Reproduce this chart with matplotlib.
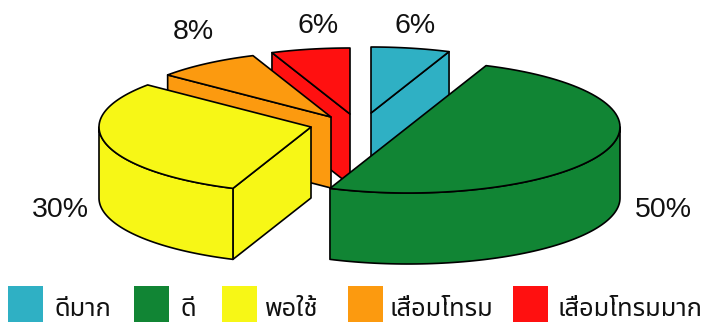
import numpy as np
import matplotlib
matplotlib.use('Agg')
import matplotlib.pyplot as plt
from matplotlib.patches import Polygon, Rectangle

# datos
categories = ['ดีมาก', 'ดี', 'พอใช้', 'เสื่อมโทรม', 'เสื่อมโทรมมาก']
values = [6, 50, 30, 8, 6]
colors = ['#2FB0C4', '#118534', '#F7F716', '#FC9A0F', '#FF1010']

# layout in pixels
apex_x = [371, 408, 311, 331, 350]
apex_y = [113, 127, 127, 117, 114]
label_xy = [(415, 26), (318, 26), (193, 32), (60, 210), (663, 210)]
label_order = [0, 4, 3, 2, 1]
legend_box_x = [8, 134, 222, 348, 513]
legend_text_x = [55, 180, 265, 389, 558]

rx, ry = 212, 66
depth = 71
lw = 1.2

fig = plt.figure(figsize=(7.04, 3.22), dpi=100)
ax = fig.add_axes([0, 0, 1, 1])
ax.set_xlim(0, 704)
ax.set_ylim(322, 0)
ax.axis('off')

# angulos de cada rebanada, desde las 12 en sentido horario
edges = np.cumsum([0] + values) / sum(values) * 2 * np.pi


def point(i, t):
    return apex_x[i] + rx * np.sin(t), apex_y[i] - ry * np.cos(t)


def arc(i, t0, t1):
    t = np.linspace(t0, t1, 80)
    return np.column_stack(point(i, t))


def poly(pts, i, z):
    ax.add_patch(Polygon(pts, closed=True, facecolor=colors[i], edgecolor='black',
                         linewidth=lw, joinstyle='round', zorder=z))


def down(pts):
    return np.asarray(pts) + [0, depth]


# blue, red, orange, yellow, green: back to front
for z, i in enumerate([0, 4, 3, 2, 1]):
    t0, t1 = edges[i], edges[i + 1]
    top = arc(i, t0, t1)
    center = np.array([[apex_x[i], apex_y[i]]])

    # cut face that looks at the viewer
    if i == 0:
        end = top[[-1]]
        poly(np.vstack([center, end, down(end), down(center)]), i, z)
    elif i in (2, 3, 4):
        end = top[[0]]
        poly(np.vstack([center, end, down(end), down(center)]), i, z)

    # outer wall, only the front half of the ellipse
    a, b = max(t0, np.pi / 2), min(t1, 3 * np.pi / 2)
    if a < b:
        wall = arc(i, a, b)
        poly(np.vstack([wall, down(wall)[::-1]]), i, z)

    poly(np.vstack([center, top]), i, z)

for n, (x, y) in zip(label_order, label_xy):
    ax.text(x, y, f'{values[n]}%', fontsize=20.5, family=['Liberation Sans', 'DejaVu Sans'],
            ha='center', va='center', color='#111111')

for i, name in enumerate(categories):
    ax.add_patch(Rectangle((legend_box_x[i], 286), 35, 36, facecolor=colors[i], edgecolor='none'))
    ax.text(legend_text_x[i], 316, name, fontsize=18.3, family=['Noto Sans Thai', 'DejaVu Sans'],
            ha='left', va='baseline', color='#111111')

fig.savefig('out.png', dpi=100)
